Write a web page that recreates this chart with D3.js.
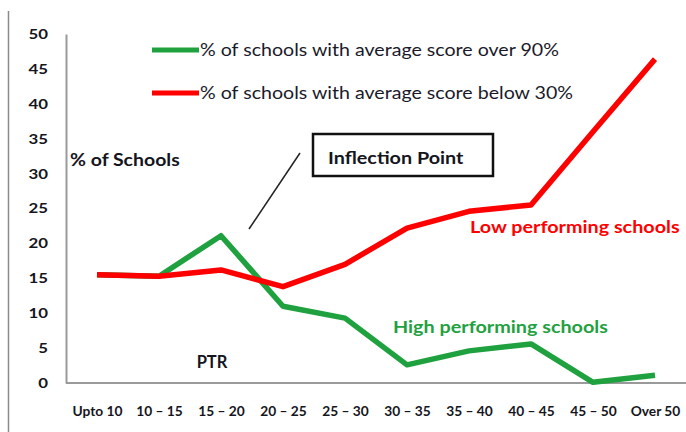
<!DOCTYPE html>
<html>
<head>
<meta charset="utf-8">
<script src="https://cdn.jsdelivr.net/npm/d3@7"></script>
<style>
body { margin: 0; background: #fff; }
svg { display: block; font-family: Lato, "Open Sans", sans-serif; }
</style>
</head>
<body>
<svg id="chart" width="686" height="432"></svg>
<script>
var categories = ["Upto 10", "10 \u2013 15", "15 \u2013 20", "20 \u2013 25", "25 \u2013 30", "30 \u2013 35", "35 \u2013 40", "40 \u2013 45", "45 \u2013 50", "Over 50"];
var highValues = [15.5, 15.3, 21.1, 11.0, 9.3, 2.6, 4.6, 5.6, 0.1, 1.1];
var lowValues = [15.5, 15.3, 16.2, 13.8, 17.0, 22.2, 24.6, 25.5, 36.0, 46.4];
var yTicks = [0, 5, 10, 15, 20, 25, 30, 35, 40, 45, 50];
var seriesNames = ["% of schools with average score over 90%", "% of schools with average score below 30%"];

var width = 686, height = 432;
var margin = ({top: 34, right: 0, bottom: 49, left: 66});
var green = "#1fa13f", red = "#ff0000";

var svg = d3.select("#chart");

var x = d3.scalePoint()
  .domain(categories)
  .range([margin.left, width - margin.right])
  .padding(0.5);

var y = d3.scaleLinear()
  .domain([0, 50])
  .range([height - margin.bottom, margin.top]);

// stretched text like the source picture (scaled wider than the font)
function wide(sel, factor) {
  sel.each(function() {
    var w = this.getComputedTextLength();
    d3.select(this).attr("textLength", w * factor).attr("lengthAdjust", "spacingAndGlyphs");
  });
}

// outer left border of the slide
svg.append("line")
  .attr("x1", 8.5).attr("x2", 8.5)
  .attr("y1", 11).attr("y2", height)
  .attr("stroke", "#8a8a8a").attr("stroke-width", 1.5);

// y axis
svg.append("g")
  .attr("transform", `translate(${margin.left},0)`)
  .call(d3.axisLeft(y).tickValues(yTicks).tickSize(0).tickPadding(18))
  .call(g => g.select(".domain").attr("stroke", "#9a9a9a").attr("stroke-width", 2))
  .call(g => g.selectAll("text")
    .attr("font-family", "Lato").attr("font-size", 14).attr("font-weight", "bold").attr("fill", "#151520")
    .call(wide, 1.2));

// x axis
svg.append("g")
  .attr("transform", `translate(0,${y(0)})`)
  .call(d3.axisBottom(x).tickSize(0).tickPadding(24))
  .call(g => g.select(".domain").attr("stroke", "#9a9a9a").attr("stroke-width", 2).attr("d", `M${margin.left},0H${width}`))
  .call(g => g.selectAll("text")
    .attr("font-family", "Lato").attr("font-size", 12.5).attr("font-weight", "bold").attr("fill", "#151520")
    .call(wide, 1.1));

var line = d3.line()
  .x((d, i) => x(categories[i]))
  .y(d => y(d));

svg.append("path")
  .datum(highValues)
  .attr("fill", "none")
  .attr("stroke", green)
  .attr("stroke-width", 5.5)
  .attr("stroke-linejoin", "round")
  .attr("d", line);

svg.append("path")
  .datum(lowValues)
  .attr("fill", "none")
  .attr("stroke", red)
  .attr("stroke-width", 5.5)
  .attr("stroke-linejoin", "round")
  .attr("d", line);

// legend
var legend = svg.append("g");
[green, red].forEach(function(c, i) {
  var ly = 50 + i * 43;
  legend.append("line")
    .attr("x1", 152).attr("x2", 199)
    .attr("y1", ly).attr("y2", ly)
    .attr("stroke", c).attr("stroke-width", 5);
  legend.append("text")
    .attr("x", 200).attr("y", ly)
    .attr("dy", "0.35em")
    .attr("font-size", 17.5)
    .attr("fill", "#1a1a2a")
    .text(seriesNames[i])
    .call(wide, 1.12);
});

// annotations
svg.append("text")
  .attr("x", 70).attr("y", 160).attr("dy", "0.35em")
  .attr("font-size", 16.5).attr("font-weight", "bold").attr("fill", "#151520")
  .text("% of Schools")
  .call(wide, 1.18);

svg.append("text")
  .attr("x", x(categories[2]) - 9).attr("y", 362).attr("dy", "0.35em")
  .attr("text-anchor", "middle")
  .attr("font-size", 16.5).attr("font-weight", "bold").attr("fill", "#151520")
  .text("PTR");

svg.append("rect")
  .attr("x", 313).attr("y", 134)
  .attr("width", 180).attr("height", 42)
  .attr("fill", "#fff").attr("stroke", "#111").attr("stroke-width", 2.5);

svg.append("text")
  .attr("x", 328).attr("y", 158).attr("dy", "0.35em")
  .attr("font-size", 17.5).attr("font-weight", "bold").attr("fill", "#151520")
  .text("Inflection Point")
  .call(wide, 1.13);

svg.append("line")
  .attr("x1", 300).attr("y1", 153)
  .attr("x2", 249).attr("y2", 229)
  .attr("stroke", "#222").attr("stroke-width", 1.5);

svg.append("text")
  .attr("x", 470).attr("y", 227).attr("dy", "0.35em")
  .attr("font-size", 17.5).attr("font-weight", "bold").attr("fill", red)
  .text("Low performing schools")
  .call(wide, 1.13);

svg.append("text")
  .attr("x", 393).attr("y", 327).attr("dy", "0.35em")
  .attr("font-size", 17.5).attr("font-weight", "bold").attr("fill", green)
  .text("High performing schools")
  .call(wide, 1.13);
</script>
</body>
</html>
